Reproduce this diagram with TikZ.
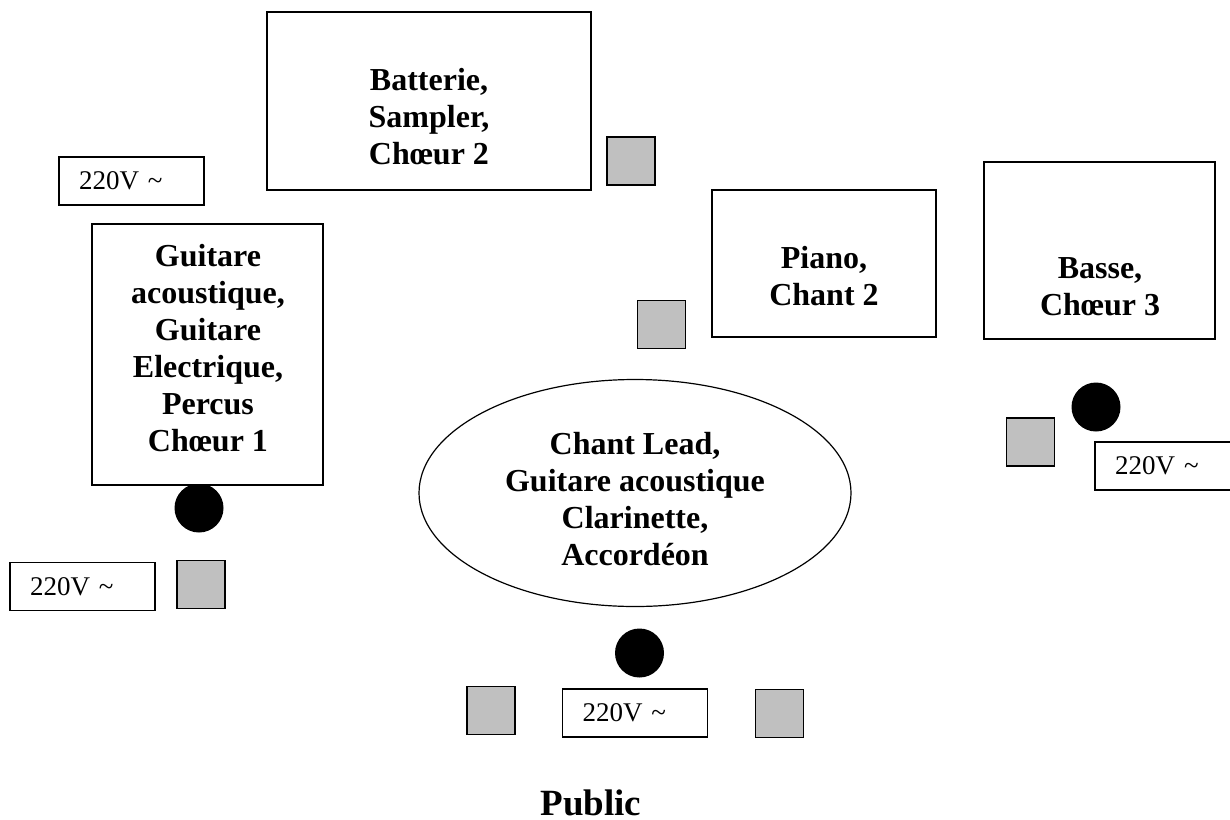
\documentclass[tikz,border=0pt]{standalone}
\usepackage{fontspec}
\setmainfont{Liberation Serif}
\usetikzlibrary{shapes.geometric}
\definecolor{spkgray}{RGB}{192,192,192}

\begin{document}
\begin{tikzpicture}[
    x=1pt, y=-1pt,
    zone/.style={draw=black, line width=1.2pt, fill=white, inner sep=0pt},
    spk/.style={draw=black, line width=1.8pt, fill=spkgray,
        minimum width=48pt, minimum height=48pt, inner sep=0pt},
    mic/.style={circle, fill=black, minimum size=49pt, inner sep=0pt},
    power/.style={draw=black, line width=1.2pt, fill=white, minimum height=48pt,
        text width=105pt, inner xsep=20pt, inner ysep=0pt, align=left,
        font=\fontsize{27}{32}\selectfont},
    txt/.style={align=center, inner sep=0pt,
        font=\fontsize{32}{37}\selectfont\bfseries}
]
    \useasboundingbox (0,0) rectangle (1230,819);
    \node[mic] (mic1) at (199,508) {};
    \node[mic] (mic2) at (639.5,653) {};
    \node[mic] (mic3) at (1096,407) {};
    \node[zone, minimum width=324pt, minimum height=178pt] (batterie) at (429,101) {};
    \node[zone, minimum width=231pt, minimum height=261pt] (guitare) at (207.5,354.5) {};
    \node[zone, minimum width=224pt, minimum height=147pt] (piano) at (824,263.5) {};
    \node[zone, minimum width=231pt, minimum height=177pt] (basse) at (1099.5,250.5) {};
    \node[zone, ellipse, minimum width=432pt, minimum height=227pt] (lead) at (635,493) {};
    \node[txt] (batterie-txt) at (429,117) {Batterie,\\Sampler,\\Ch\oe ur 2};
    \node[txt] (guitare-txt) at (208,348.5) {Guitare\\acoustique,\\Guitare\\Electrique,\\Percus\\Ch\oe ur 1};
    \node[txt] (piano-txt) at (824,276) {Piano,\\Chant 2};
    \node[txt] (basse-txt) at (1100,287) {Basse,\\Ch\oe ur 3};
    \node[txt] (lead-txt) at (635,499) {Chant Lead,\\Guitare acoustique\\Clarinette,\\Accordéon};
    \node[spk] (spk1) at (631,161) {};
    \node[spk] (spk2) at (661.5,324.5) {};
    \node[spk] (spk3) at (201,584.5) {};
    \node[spk] (spk4) at (491,710.5) {};
    \node[spk] (spk5) at (779.5,713.5) {};
    \node[spk] (spk6) at (1030.5,442) {};
    \node[power] (pow1) at (131.5,181) {220V \textasciitilde};
    \node[power] (pow2) at (82.5,586.5) {220V \textasciitilde};
    \node[power] (pow3) at (635,713) {220V \textasciitilde};
    \node[power] (pow4) at (1167.5,466) {220V \textasciitilde};
    \node[txt, font=\fontsize{37}{42}\selectfont\bfseries] (public) at (591,803) {Public};
\end{tikzpicture}
\end{document}
